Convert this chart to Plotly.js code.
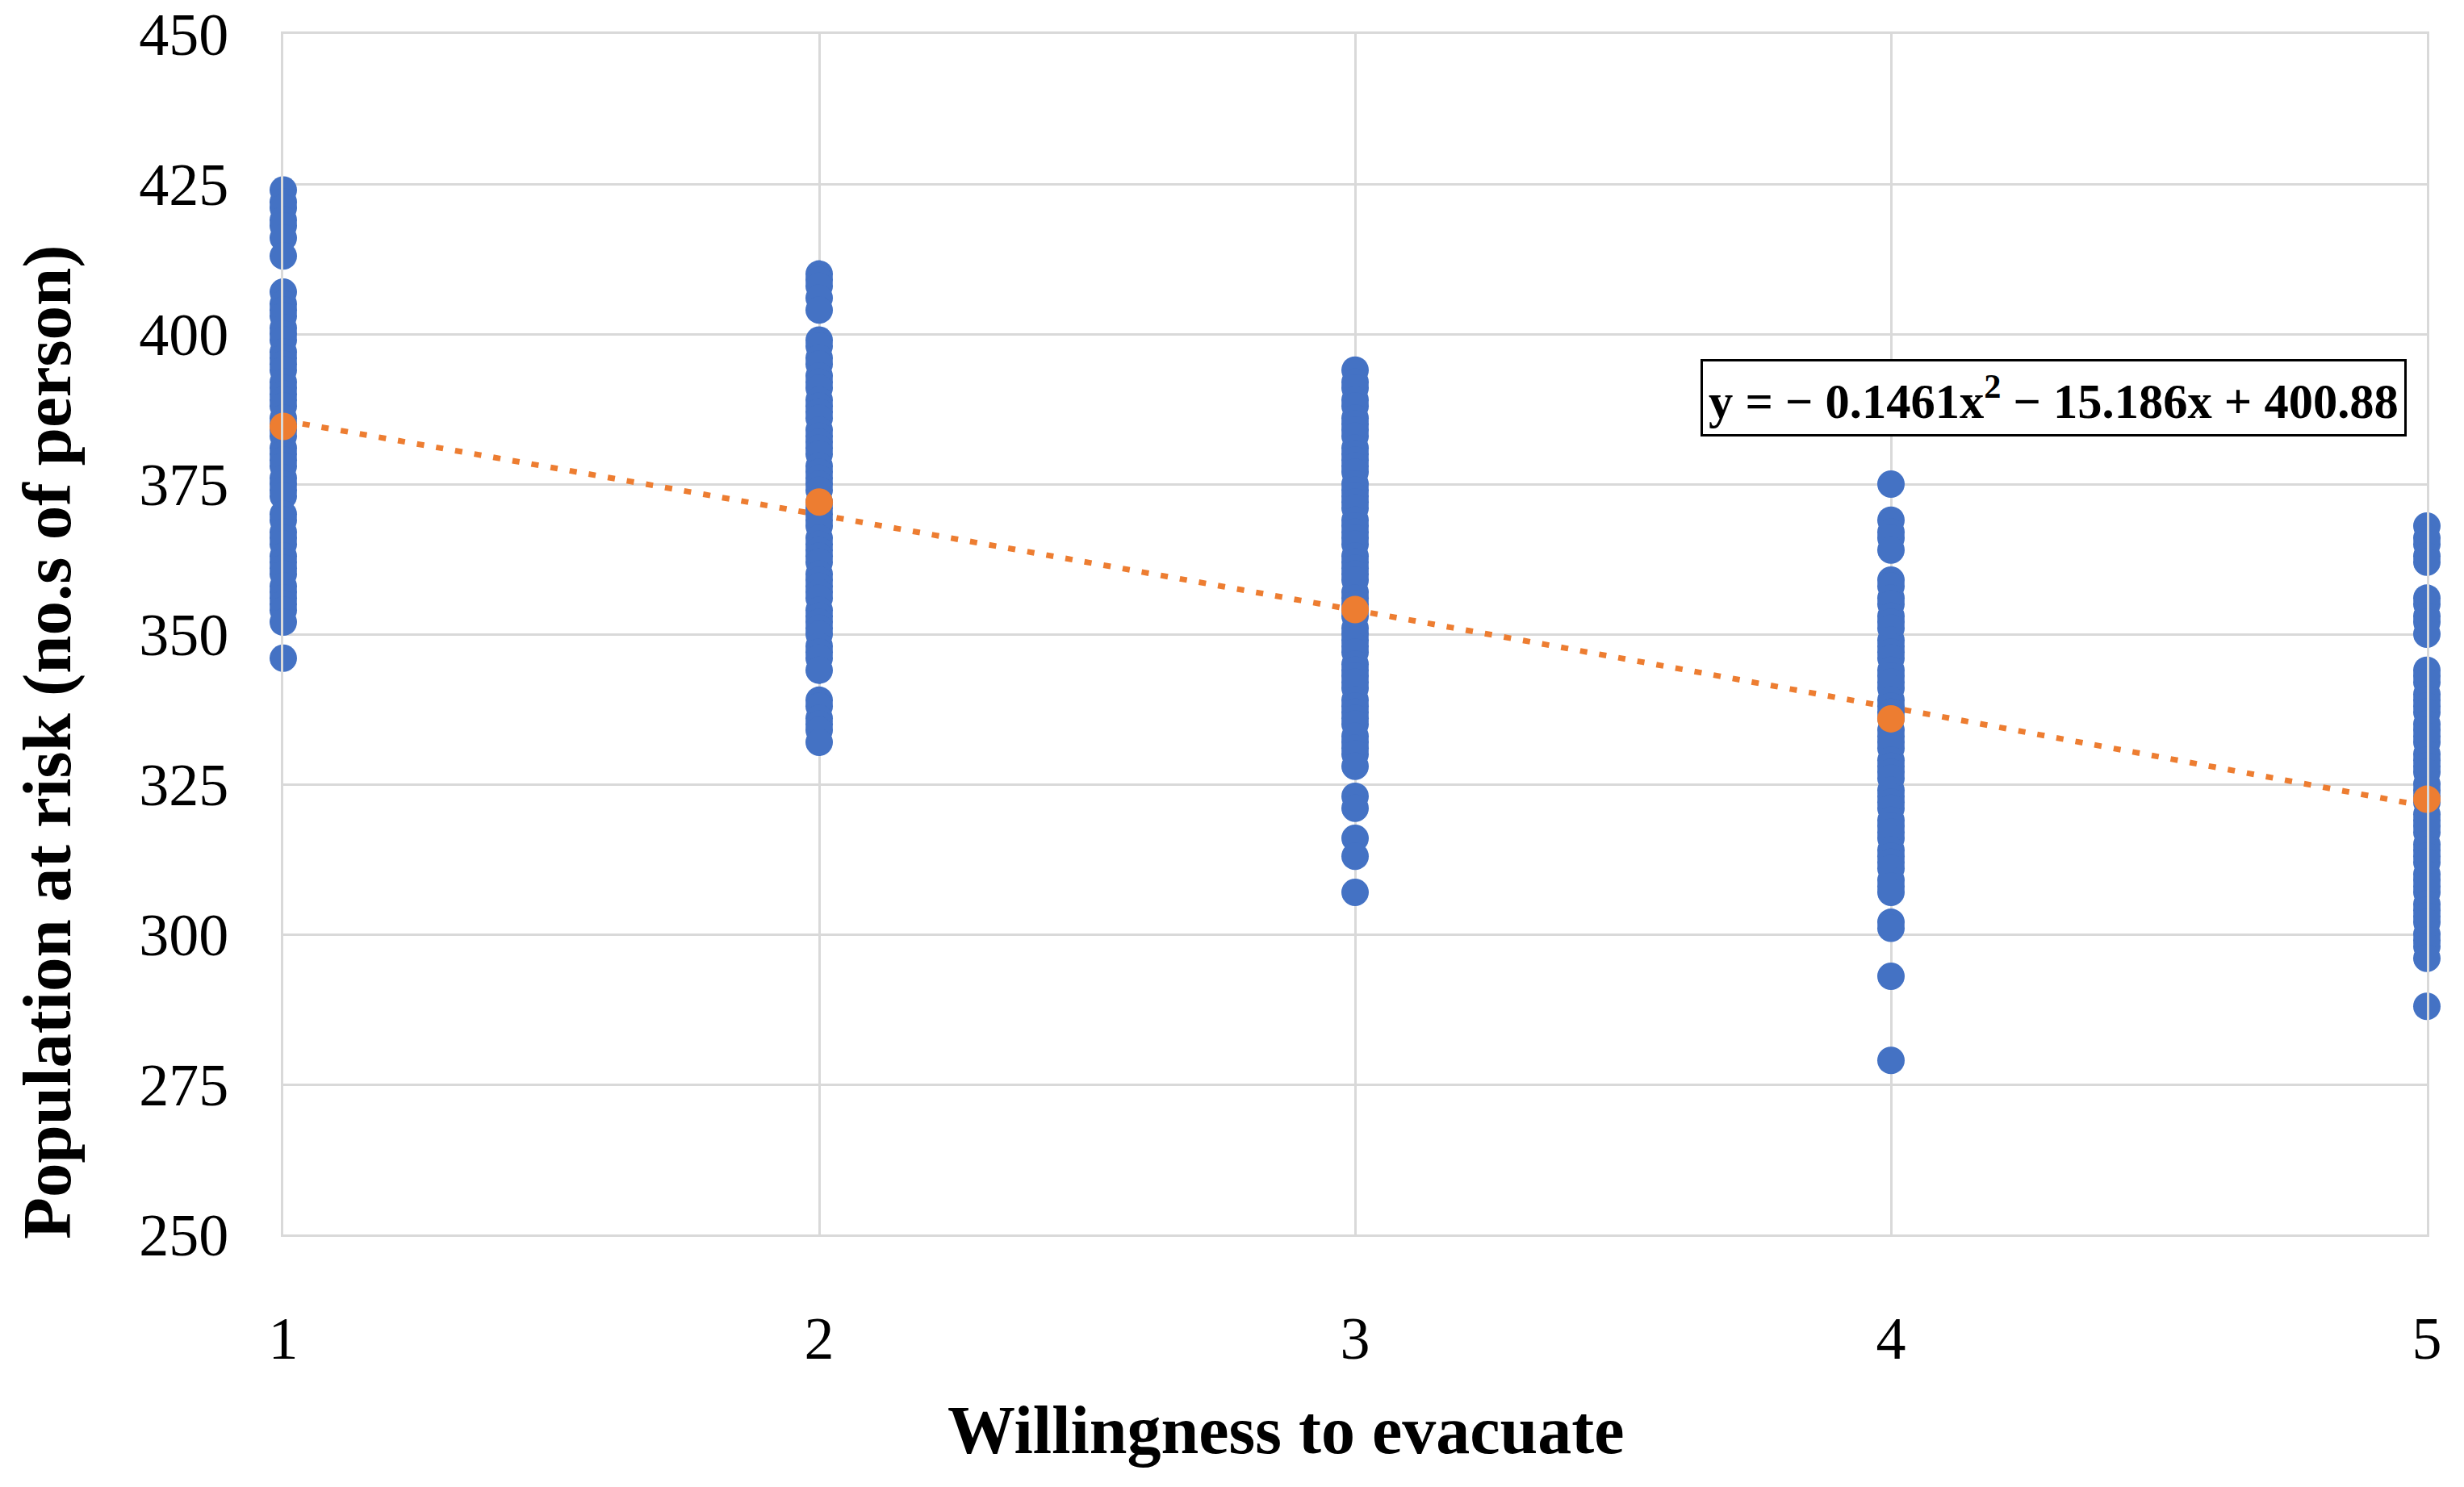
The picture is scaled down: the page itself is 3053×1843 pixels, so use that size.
<!DOCTYPE html>
<html>
<head>
<meta charset="utf-8">
<script src="https://cdn.plot.ly/plotly-3.0.1.min.js"></script>
<style>
  html, body { margin: 0; padding: 0; background: #ffffff; }
  #chart { width: 3053px; height: 1843px; }
</style>
</head>
<body>
<div id="chart"></div>
<script>
// willingness levels on the x axis
var levels = [1, 2, 3, 4, 5];

// population at risk
var level1 = [424, 422, 421, 419, 418, 416, 413,
    407, 405, 404, 403, 401, 400, 399, 397, 396, 395, 394, 392, 391, 390, 389, 388, 386,
    385, 384, 383, 381, 380, 379, 378, 376, 375, 374, 373,
    370, 369, 367, 366, 365, 363, 362, 361, 360, 358, 357, 356, 355, 354, 352,
    346];
var level2 = [410, 409, 408, 406, 404,
    399, 398, 396, 395, 393, 392, 391, 389, 388, 387, 386, 384, 383, 382, 381, 380, 378,
    377, 376, 375, 374, 372, 371, 370, 369, 368, 366, 365, 364, 363, 362, 360, 359, 358,
    357, 356, 354, 353, 352, 351, 350, 348, 347, 346, 344,
    339, 338, 336, 335, 334, 332];
var level3 = [394, 392, 391, 389, 388, 386, 385, 384, 383, 381, 380, 379, 378, 377, 375,
    374, 373, 372, 371, 369, 368, 367, 366, 365, 363, 362, 361, 360, 359, 357, 356, 355,
    354, 353, 351, 350, 349, 348, 347, 345, 344, 343, 342, 341, 339, 338, 337, 336, 335,
    333, 332, 331, 330, 328,
    323, 321, 316, 313, 307];
var level4 = [375,
    369, 367, 366, 364,
    359, 358, 356, 355, 353, 352, 351, 349, 348, 347, 346, 344, 343, 342, 341, 339, 338,
    337, 336, 334, 333, 332, 331, 329, 328, 327, 326, 324, 323, 322, 321, 319, 318, 317,
    316, 314, 313, 312, 311, 309, 308, 307,
    302, 301, 293, 279];
var level5 = [368, 366, 365, 363, 362,
    356, 355, 353, 352, 350,
    344, 343, 342, 340, 339, 338, 337, 335, 334, 333, 332, 330, 329, 328, 327, 325, 324,
    323, 322, 320, 319, 318, 317, 315, 314, 313, 312, 310, 309, 308, 307, 305, 304, 303,
    302, 300, 299, 298, 296,
    288];

// column averages (orange dots) and the trendline read at each level
var averages = [384.6, 372.0, 354.1, 335.9, 322.5];
var trendValues = [385.6, 369.9, 354.0, 337.8, 321.3];
var equationText = 'y = − 0.1461x<sup>2</sup> − 15.186x + 400.88';

var columns = [level1, level2, level3, level4, level5];
var allX = [];
var allY = [];
columns.forEach(function(col, i) {
    col.forEach(function(v) {
        allX.push(levels[i]);
        allY.push(v);
    });
});

var SERIF = 'Liberation Serif, Times New Roman, serif';

var traces = [
    {
        x: levels,
        y: trendValues,
        mode: 'lines',
        line: { color: '#ED7D31', width: 7, dash: '9px,15px', shape: 'spline' },
        cliponaxis: false,
        hoverinfo: 'skip'
    },
    {
        x: allX,
        y: allY,
        mode: 'markers',
        marker: { color: '#4472C4', size: 34 },
        cliponaxis: false
    },
    {
        x: levels,
        y: averages,
        mode: 'markers',
        marker: { color: '#ED7D31', size: 34 },
        cliponaxis: false
    }
];

var layout = {
    width: 3053,
    height: 1843,
    showlegend: false,
    paper_bgcolor: '#ffffff',
    plot_bgcolor: '#ffffff',
    margin: { l: 351, r: 46, t: 42, b: 313 },
    font: { family: SERIF, color: '#000000' },
    xaxis: {
        range: [1, 5],
        tickvals: levels,
        ticktext: ['1', '2', '3', '4', '5'],
        showgrid: true,
        gridcolor: '#d9d9d9',
        gridwidth: 3,
        zeroline: false,
        showline: true,
        linecolor: '#d9d9d9',
        linewidth: 3,
        mirror: true,
        ticks: '',
        ticklabelstandoff: 62,
        tickfont: { family: SERIF, size: 74, color: '#000000' }
    },
    yaxis: {
        range: [250, 450],
        dtick: 25,
        tick0: 250,
        showgrid: true,
        gridcolor: '#d9d9d9',
        gridwidth: 3,
        zeroline: false,
        showline: true,
        linecolor: '#d9d9d9',
        linewidth: 3,
        mirror: true,
        ticks: '',
        ticklabelstandoff: 50,
        tickfont: { family: SERIF, size: 74, color: '#000000' }
    },
    annotations: [
        {
            xref: 'paper', yref: 'paper',
            x: (1593 - 351) / 2656, y: -(1772 - 1530) / 1488,
            xanchor: 'center', yanchor: 'middle',
            showarrow: false,
            text: '<b>Willingness to evacuate</b>',
            font: { family: SERIF, size: 84, color: '#000000' }
        },
        {
            xref: 'paper', yref: 'paper',
            x: -(351 - 58) / 2656, y: 1 - (920 - 42) / 1488,
            xanchor: 'center', yanchor: 'middle',
            textangle: -90,
            showarrow: false,
            text: '<b>Population at risk (no.s of person)</b>',
            font: { family: SERIF, size: 85, color: '#000000' }
        },
        {
            xref: 'x', yref: 'y',
            x: 4.304, y: 389.4,
            xanchor: 'center', yanchor: 'middle',
            showarrow: false,
            text: '<b>' + equationText + '</b>',
            font: { family: SERIF, size: 60.5, color: '#000000' },
            bgcolor: '#ffffff',
            bordercolor: '#000000',
            borderwidth: 3,
            borderpad: 7
        }
    ]
};

Plotly.newPlot('chart', traces, layout, { displayModeBar: false, staticPlot: true });
</script>
</body>
</html>
